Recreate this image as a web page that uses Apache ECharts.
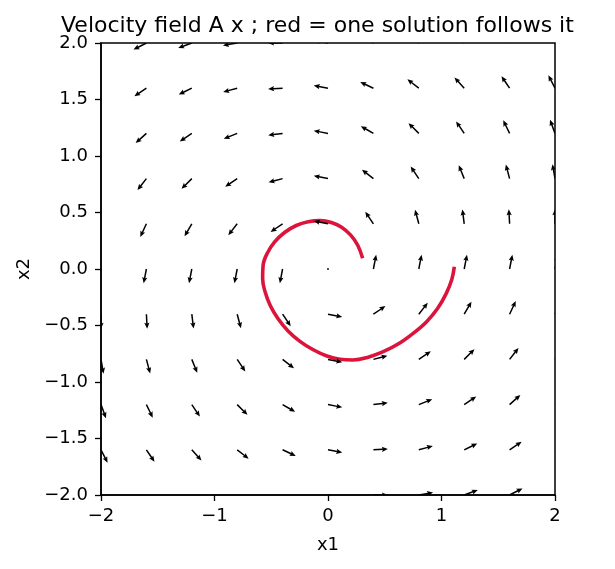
<!DOCTYPE html>
<html>
<head>
<meta charset="utf-8">
<script src="https://cdn.jsdelivr.net/npm/echarts@6/dist/echarts.min.js"></script>
<style>
  html, body { margin: 0; padding: 0; background: #fff; }
  #main { width: 615px; height: 569px; }
</style>
</head>
<body>
<div id="main"></div>
<script>
  // grid of the quiver (same for both axes)
  var gridX = [-2, -1.6, -1.2, -0.8, -0.4, 0, 0.4, 0.8, 1.2, 1.6, 2];
  var gridY = [-2, -1.6, -1.2, -0.8, -0.4, 0, 0.4, 0.8, 1.2, 1.6, 2];
  // arrow direction in degrees (0 = right, 90 = up), one row per gridY value
  var angleRows = [
    [304, 310, 318, 327, 337, 349, 0, 10, 20, 27, 34],
    [297, 304, 312, 322, 335, 349, 3, 15, 26, 34, 40],
    [290, 296, 304, 315, 330, 349, 7, 22, 34, 42, 48],
    [280, 285, 292, 304, 322, 349, 15, 34, 45, 52, 57],
    [270, 273, 277, 285, 304, 349, 34, 52, 60, 65, 67],
    [259, 259, 259, 259, 259, null, 79, 79, 79, 79, 79],
    [247, 245, 240, 232, 214, 169, 124, 105, 97, 93, 90],
    [237, 232, 225, 214, 195, 169, 142, 124, 112, 105, 100],
    [228, 222, 214, 202, 187, 169, 150, 135, 124, 116, 110],
    [220, 214, 206, 195, 183, 169, 155, 142, 132, 124, 117],
    [214, 207, 200, 190, 180, 169, 157, 147, 138, 130, 124]
  ];
  // red solution curve
  var solX = [0.305, 0.262, 0.200, 0.120, 0.030, -0.070, -0.175, -0.280, -0.380, -0.470, -0.535, -0.572, -0.576, -0.555, -0.510, -0.440, -0.350, -0.247, -0.130, -0.010, 0.106, 0.220, 0.340, 0.487, 0.625, 0.750, 0.869, 0.965, 1.040, 1.090, 1.113];
  var solY = [0.095, 0.210, 0.300, 0.370, 0.412, 0.428, 0.418, 0.385, 0.325, 0.240, 0.140, 0.030, -0.083, -0.200, -0.320, -0.440, -0.550, -0.640, -0.715, -0.770, -0.799, -0.805, -0.785, -0.732, -0.660, -0.570, -0.466, -0.350, -0.220, -0.095, 0.020];

  var arrowData = [];
  for (var j = 0; j < gridY.length; j++) {
    for (var i = 0; i < gridX.length; i++) {
      arrowData.push([gridX[i], gridY[j], angleRows[j][i]]);
    }
  }
  var solData = [];
  for (var k = 0; k < solX.length; k++) {
    solData.push([solX[k], solY[k]]);
  }

  function minus(s) {
    return String(s).replace('-', '\u2212');
  }

  // quiver arrow, tail on the grid point
  function renderArrow(params, api) {
    var p = api.coord([api.value(0), api.value(1)]);
    var a = api.value(2);
    if (a == null || isNaN(a)) {
      return {type: 'circle', shape: {cx: p[0], cy: p[1], r: 0.9}, style: {fill: '#000'}};
    }
    var L = 14.5, hl = 6, hal = 5.2, hw = 2.6, sw = 0.75;
    var r = a * Math.PI / 180;
    var dx = Math.cos(r), dy = -Math.sin(r);
    var nx = -dy, ny = dx;
    var local = [[0, -sw], [L - hal, -sw], [L - hl, -hw], [L, 0], [L - hl, hw], [L - hal, sw], [0, sw]];
    var pts = [];
    for (var m = 0; m < local.length; m++) {
      pts.push([p[0] + local[m][0] * dx + local[m][1] * nx, p[1] + local[m][0] * dy + local[m][1] * ny]);
    }
    return {type: 'polygon', shape: {points: pts}, style: {fill: '#000'}};
  }

  var myChart = echarts.init(document.getElementById('main'));
  var font = 'DejaVu Sans';

  var option = {
    animation: false,
    backgroundColor: '#fff',
    title: {
      text: 'Velocity field A x ; red = one solution follows it',
      left: 56,
      top: 10,
      textStyle: {fontFamily: font, fontSize: 22, fontWeight: 'normal', color: '#000'}
    },
    grid: {
      left: 101, right: 60, top: 43, bottom: 74,
      show: true, borderColor: '#000', borderWidth: 1.5
    },
    xAxis: {
      type: 'value', min: -2, max: 2, interval: 1,
      name: 'x1', nameLocation: 'middle', nameGap: 41,
      nameTextStyle: {fontFamily: font, fontSize: 18, color: '#000'},
      axisLine: {show: true, onZero: false, lineStyle: {color: '#000', width: 1.5}},
      axisTick: {show: true, length: 6, lineStyle: {color: '#000', width: 1.3}},
      axisLabel: {fontFamily: font, fontSize: 18, color: '#000', margin: 12,
        formatter: function (v) { return minus(v); }},
      splitLine: {show: false}
    },
    yAxis: {
      type: 'value', min: -2, max: 2, interval: 0.5,
      name: 'x2', nameLocation: 'middle', nameGap: 68,
      nameTextStyle: {fontFamily: font, fontSize: 18, color: '#000'},
      axisLine: {show: true, onZero: false, lineStyle: {color: '#000', width: 1.5}},
      axisTick: {show: true, length: 6, lineStyle: {color: '#000', width: 1.3}},
      axisLabel: {fontFamily: font, fontSize: 18, color: '#000', margin: 13,
        formatter: function (v) { return minus(v.toFixed(1)); }},
      splitLine: {show: false}
    },
    series: [
      {
        type: 'line',
        data: solData,
        showSymbol: false,
        smooth: 0.4,
        lineStyle: {color: '#DC143C', width: 3.6},
        z: 2
      },
      {
        type: 'custom',
        data: arrowData,
        encode: {x: 0, y: 1},
        renderItem: renderArrow,
        clip: true,
        z: 3
      }
    ]
  };

  myChart.setOption(option);
</script>
</body>
</html>
